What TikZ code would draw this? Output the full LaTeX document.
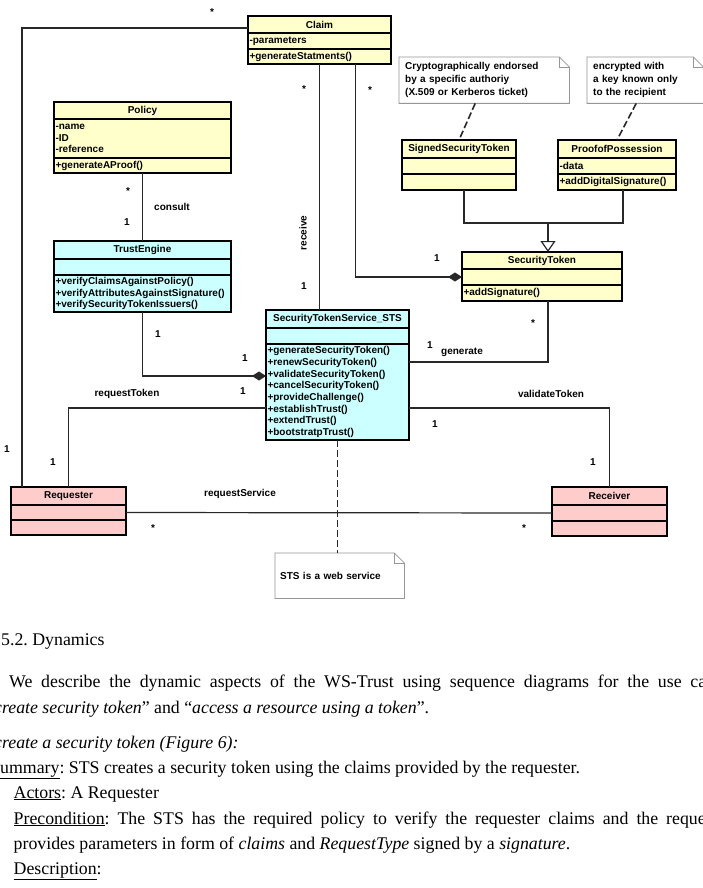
\documentclass[tikz,border=0pt]{standalone}
\usepackage{fontspec}
\setmainfont{Liberation Serif}
\newfontfamily\umlfont{Liberation Sans}
\usetikzlibrary{positioning,arrows.meta}
\frenchspacing

\definecolor{clsyellow}{RGB}{255,255,204}
\definecolor{clscyan}{RGB}{204,255,255}
\definecolor{clspink}{RGB}{255,204,204}
\definecolor{linegray}{RGB}{40,40,40}
\definecolor{notegray}{RGB}{150,150,150}

\begin{document}
\begin{tikzpicture}[
    x=1pt, y=-1pt,
    font=\umlfont\bfseries\fontsize{10}{11.7}\selectfont,
    cls/.style={draw=black, line width=1.2pt, inner xsep=1.5pt, inner ysep=0pt, outer sep=0pt, anchor=north west},
    ctitle/.style={cls, align=center},
    cpart/.style={cls, align=left},
    assoc/.style={draw=linegray, line width=1.2pt},
    attach/.style={draw=linegray, line width=1.6pt, dash pattern=on 7pt off 3pt},
    lbl/.style={inner sep=0pt},
    notebox/.style={inner xsep=6pt, inner ysep=0pt, anchor=north west, align=left, font=\umlfont\bfseries\fontsize{10}{13}\selectfont},
    noteline/.style={draw=notegray, line width=0.8pt},
    para/.style={inner sep=0pt, anchor=base west, font=\normalfont\fontsize{17.8}{21}\selectfont}
]
    \path[use as bounding box, fill=white] (0,0) rectangle (703,888);
    \clip (0,0) rectangle (703,888);

    % Claim
    \node[ctitle, fill=clsyellow, text width=140pt, minimum height=17pt] (claim) at (248,16) {Claim};
    \node[cpart, fill=clsyellow, text width=140pt, minimum height=16pt, below=0pt of claim] (claim-a) {-parameters};
    \node[cpart, fill=clsyellow, text width=140pt, minimum height=15pt, below=0pt of claim-a] (claim-m) {+generateStatments()};

    % Policy
    \node[ctitle, fill=clsyellow, text width=174pt, minimum height=17pt] (pol) at (54,102) {Policy};
    \node[cpart, fill=clsyellow, text width=174pt, minimum height=39pt, below=0pt of pol] (pol-a) {-name\\-ID\\-reference};
    \node[cpart, fill=clsyellow, text width=174pt, minimum height=15pt, below=0pt of pol-a] (pol-m) {+generateAProof()};

    % TrustEngine
    \node[ctitle, fill=clscyan, text width=174pt, minimum height=18pt] (trust) at (54,241) {TrustEngine};
    \node[cpart, fill=clscyan, text width=174pt, minimum height=16pt, below=0pt of trust] (trust-a) {};
    \node[cpart, fill=clscyan, text width=174pt, minimum height=37pt, below=0pt of trust-a] (trust-m) {+verifyClaimsAgainstPolicy()\\+verifyAttributesAgainstSignature()\\+verifySecurityTokenIssuers()};

    % SignedSecurityToken
    \node[ctitle, fill=clsyellow, text width=111pt, minimum height=18pt] (sst) at (402,140) {SignedSecurityToken};
    \node[cpart, fill=clsyellow, text width=111pt, minimum height=16pt, below=0pt of sst] (sst-a) {};
    \node[cpart, fill=clsyellow, text width=111pt, minimum height=16pt, below=0pt of sst-a] (sst-m) {};

    % ProofofPossession
    \node[ctitle, fill=clsyellow, text width=115pt, minimum height=18pt] (pop) at (558,140) {ProofofPossession};
    \node[cpart, fill=clsyellow, text width=115pt, minimum height=16pt, below=0pt of pop] (pop-a) {-data};
    \node[cpart, fill=clsyellow, text width=115pt, minimum height=16pt, below=0pt of pop-a] (pop-m) {+addDigitalSignature()};

    % SecurityToken
    \node[ctitle, fill=clsyellow, text width=157pt, minimum height=17pt] (tok) at (462,252) {SecurityToken};
    \node[cpart, fill=clsyellow, text width=157pt, minimum height=16pt, below=0pt of tok] (tok-a) {};
    \node[cpart, fill=clsyellow, text width=157pt, minimum height=16pt, below=0pt of tok-a] (tok-m) {+addSignature()};

    % SecurityTokenService_STS
    \node[ctitle, fill=clscyan, text width=140pt, minimum height=18pt] (sts) at (266,310) {SecurityTokenService\_STS};
    \node[cpart, fill=clscyan, text width=140pt, minimum height=16pt, below=0pt of sts] (sts-a) {};
    \node[cpart, fill=clscyan, text width=140pt, minimum height=96pt, below=0pt of sts-a] (sts-m) {+generateSecurityToken()\\+renewSecurityToken()\\+validateSecurityToken()\\+cancelSecurityToken()\\+provideChallenge()\\+establishTrust()\\+extendTrust()\\+bootstratpTrust()};

    % Requester and Receiver
    \node[ctitle, fill=clspink, text width=112pt, minimum height=18pt] (req) at (11,487) {Requester};
    \node[cpart, fill=clspink, text width=112pt, minimum height=15pt, below=0pt of req] (req-a) {};
    \node[cpart, fill=clspink, text width=112pt, minimum height=15pt, below=0pt of req-a] (req-m) {};
    \node[ctitle, fill=clspink, text width=112pt, minimum height=18pt] (rcv) at (552,487) {Receiver};
    \node[cpart, fill=clspink, text width=112pt, minimum height=16pt, below=0pt of rcv] (rcv-a) {};
    \node[cpart, fill=clspink, text width=112pt, minimum height=15pt, below=0pt of rcv-a] (rcv-m) {};

    % Notes
    \node[notebox, text width=158pt, minimum height=46pt] (note1) at (399,57) {Cryptographically endorsed\\by a specific authoriy\\(X.509 or Kerberos ticket)};
    \node[notebox, text width=104pt, minimum height=46pt] (note2) at (587,57) {encrypted with\\a key known only\\to the recipient};
    \node[notebox, inner xsep=5pt, text width=119pt, minimum height=45pt] (note3) at (275,553) {STS is a web service};
    \draw[noteline] (note1.north west) -- ([xshift=-10pt]note1.north east) -- ([yshift=-10pt]note1.north east) -- (note1.south east) -- (note1.south west) -- cycle;
    \draw[noteline] ([xshift=-10pt]note1.north east) |- ([yshift=-10pt]note1.north east);
    \draw[noteline] (note2.north west) -- ([xshift=-10pt]note2.north east) -- ([yshift=-10pt]note2.north east) -- (note2.south east) -- (note2.south west) -- cycle;
    \draw[noteline] ([xshift=-10pt]note2.north east) |- ([yshift=-10pt]note2.north east);
    \draw[noteline] (note3.north west) -- ([xshift=-10pt]note3.north east) -- ([yshift=-10pt]note3.north east) -- (note3.south east) -- (note3.south west) -- cycle;
    \draw[noteline] ([xshift=-10pt]note3.north east) |- ([yshift=-10pt]note3.north east);

    % Associations
    \draw[assoc] ([yshift=-3.5pt]claim.west) -| ([xshift=11pt]req.north west);
    \draw[assoc] (claim-m.south) -- (claim-m.south |- sts.north);
    \draw[assoc, -{Diamond[length=14pt, width=9pt]}] ([xshift=36pt]claim-m.south) |- (tok-a.west);
    \draw[assoc] (pol-m.south) -- (trust.north);
    \draw[assoc, -{Diamond[length=14pt, width=9pt]}] (trust-m.south) |- ([yshift=-32pt]sts-m.north west);
    \draw[assoc] ([yshift=-64pt]sts-m.north west) -| (req.north);
    \draw[assoc] ([yshift=-64pt]sts-m.north east) -| (rcv.north);
    \draw[assoc] ([yshift=-18pt]sts-m.north east) -| ([xshift=6pt]tok-m.south);
    \draw[assoc] (req-a.east) -- (rcv-a.west);

    % Generalisation
    \coordinate (genjoin) at ([xshift=6pt, yshift=29pt]tok.north);
    \draw[assoc] ([xshift=5pt]sst-m.south) |- (genjoin) -| ([xshift=6pt]pop-m.south);
    \draw[assoc, -{Triangle[open, length=11pt, width=15pt]}] (genjoin) -- ([xshift=6pt]tok.north);

    % Note attachments
    \draw[attach] ([xshift=-9pt]note1.south) -- (sst.north);
    \draw[attach] ([xshift=-9pt]note2.south) -- (pop.north);
    \draw[attach] (sts-m.south) -- (sts-m.south |- note3.north);

    % Multiplicities and role names
    \node[lbl] (m-claim-req) at (212,12) {*};
    \node[lbl] (m-req-claim) at (7,449) {1};
    \node[lbl] (m-claim-sts) at (304,89) {*};
    \node[lbl, rotate=90] (receive) at (303,233) {receive};
    \node[lbl] (m-sts-claim) at (304,286) {1};
    \node[lbl] (m-claim-tok) at (370,90) {*};
    \node[lbl] (m-tok-claim) at (437,258) {1};
    \node[lbl] (m-pol-trust) at (128,191) {*};
    \node[lbl] (m-trust-pol) at (127,222) {1};
    \node[lbl] (consult) at (172,207) {consult};
    \node[lbl] (m-trust-sts) at (158,334) {1};
    \node[lbl] (m-sts-trust) at (245,358) {1};
    \node[lbl] (reqtoken) at (127,394) {requestToken};
    \node[lbl] (m-sts-req) at (243,391) {1};
    \node[lbl] (m-req-sts) at (53,462) {1};
    \node[lbl] (valtoken) at (551,394) {validateToken};
    \node[lbl] (m-sts-rcv) at (435,424) {1};
    \node[lbl] (m-rcv-sts) at (593,462) {1};
    \node[lbl] (m-sts-tok) at (430,345) {1};
    \node[lbl] (generate) at (462,352) {generate};
    \node[lbl] (m-tok-sts) at (533,323) {*};
    \node[lbl] (reqservice) at (240,494) {requestService};
    \node[lbl] (m-req-rcv) at (153,528) {*};
    \node[lbl] (m-rcv-req) at (524,528) {*};

    % Text below the figure
    \node[para] (sec) at (1,645) {5.2. Dynamics};
    \node[para] (p1a) at (9,687) {\makebox[697pt][s]{We describe the dynamic aspects of the WS-Trust using sequence diagrams for the use ca}};
    \node[para] (p1b) at (-6,713) {\textit{create security token}” and “\textit{access a resource using a token}”.};
    \node[para] (uc1) at (-6,748) {\textit{create a security token (Figure 6):}};
    \node[para] (sum) at (0,773) {\underline{ummary}: STS creates a security token using the claims provided by the requester.};
    \node[para] (act) at (13.5,798) {\underline{Actors}: A Requester};
    \node[para] (pre) at (13.5,824) {\makebox[692pt][s]{\underline{Precondition}: The STS has the required policy to verify the requester claims and the reque}};
    \node[para] (pre2) at (13.5,849) {provides parameters in form of \textit{claims} and \textit{RequestType} signed by a \textit{signature}.};
    \node[para] (desc) at (13.5,874) {\underline{Description}:};

\end{tikzpicture}
\end{document}
